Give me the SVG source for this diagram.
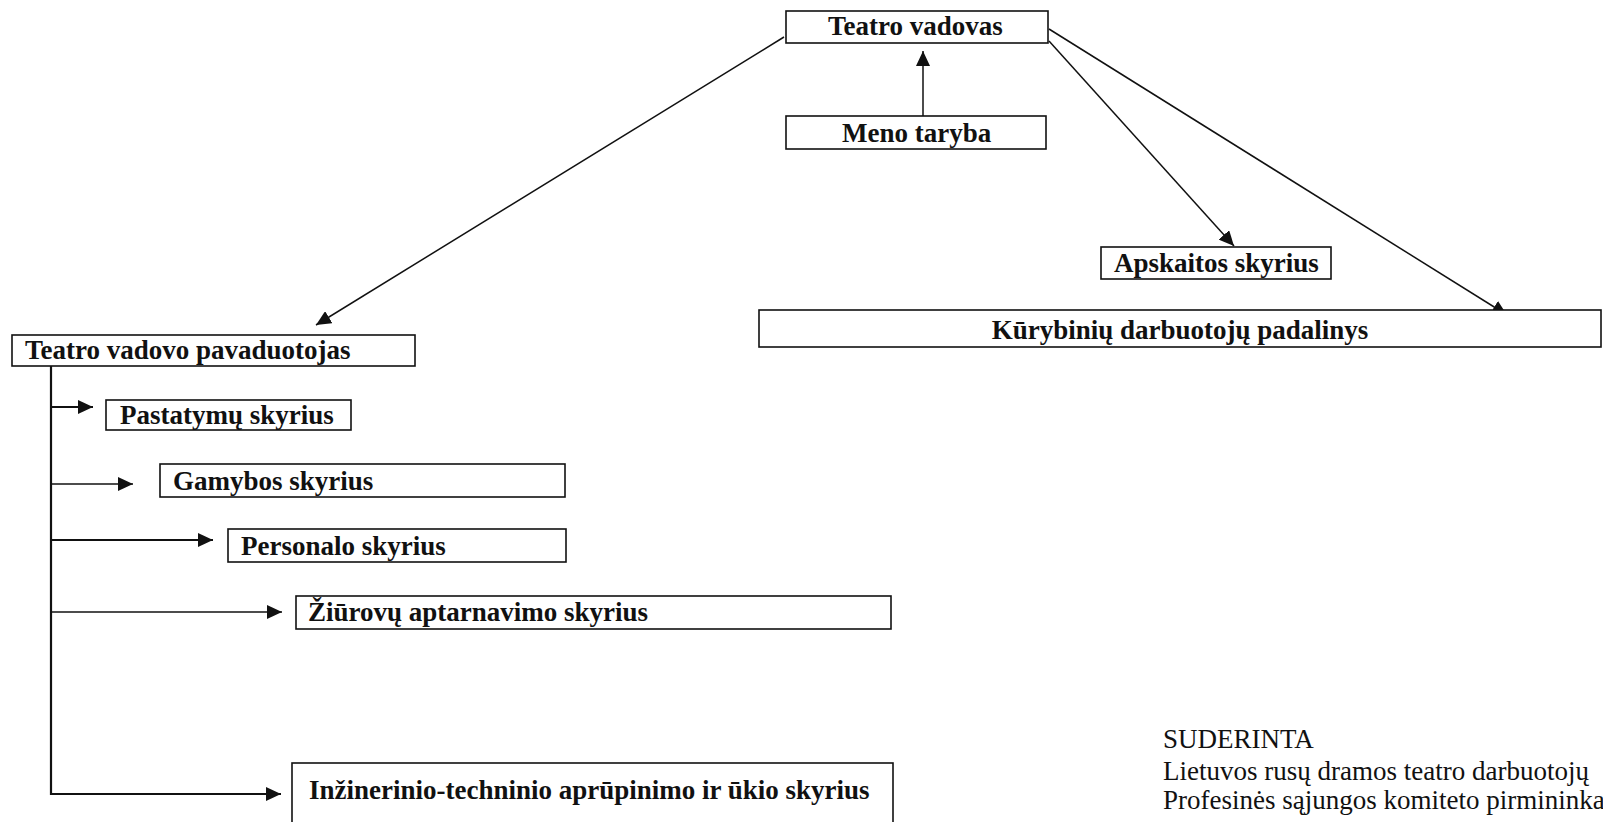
<svg xmlns="http://www.w3.org/2000/svg" width="1603" height="822" viewBox="0 0 1603 822">
<style>
.box{fill:#fff;stroke:#111;stroke-width:1.6}
.lbl{font-family:"Liberation Serif","Times New Roman",serif;font-weight:bold;font-size:27px;fill:#111}
.note{font-family:"Liberation Serif","Times New Roman",serif;font-size:27px;fill:#111}
.conn{fill:none;stroke:#111;stroke-width:1.5}
.tree{fill:none;stroke:#111;stroke-width:2.2}
</style>
<defs>
<marker id="arr" markerUnits="userSpaceOnUse" markerWidth="16" markerHeight="14" refX="15" refY="7" orient="auto">
<path d="M0,0 L15,7 L0,14 Z" fill="#111"/>
</marker>
</defs>
<rect width="1603" height="822" fill="#fff"/>
<g id="connectors">
<line class="conn" x1="923" y1="116" x2="923" y2="51" marker-end="url(#arr)"/>
<line class="conn" x1="784" y1="37" x2="316" y2="325" marker-end="url(#arr)"/>
<line class="conn" x1="1049" y1="41" x2="1234" y2="246" marker-end="url(#arr)"/>
<line class="conn" x1="1049" y1="29" x2="1507" y2="315" marker-end="url(#arr)"/>
<polyline class="tree" points="51,366 51,795"/>
<line class="tree" x1="51" y1="407" x2="93" y2="407" marker-end="url(#arr)"/>
<line class="conn" x1="51" y1="484" x2="133" y2="484" marker-end="url(#arr)"/>
<line class="tree" x1="51" y1="540" x2="213" y2="540" marker-end="url(#arr)"/>
<line class="conn" x1="51" y1="612" x2="282" y2="612" marker-end="url(#arr)"/>
<line class="tree" x1="51" y1="794" x2="281" y2="794" marker-end="url(#arr)"/>
</g>
<g id="teatro-vadovas">
<rect class="box" x="786" y="11" width="262" height="32"/>
<text class="lbl" x="828" y="35">Teatro vadovas</text>
</g>
<g id="meno-taryba">
<rect class="box" x="786" y="116" width="260" height="33"/>
<text class="lbl" x="842" y="142">Meno taryba</text>
</g>
<g id="apskaitos-skyrius">
<rect class="box" x="1101" y="247" width="230" height="32"/>
<text class="lbl" x="1114" y="272">Apskaitos skyrius</text>
</g>
<g id="kurybiniu-padalinys">
<rect class="box" x="759" y="310" width="842" height="37"/>
<text class="lbl" x="1180" y="339" text-anchor="middle">Kūrybinių darbuotojų padalinys</text>
</g>
<g id="pavaduotojas">
<rect class="box" x="12" y="335" width="403" height="31"/>
<text class="lbl" x="25" y="359">Teatro vadovo pavaduotojas</text>
</g>
<g id="pastatymu-skyrius">
<rect class="box" x="106" y="400" width="245" height="30"/>
<text class="lbl" x="120" y="424">Pastatymų skyrius</text>
</g>
<g id="gamybos-skyrius">
<rect class="box" x="160" y="464" width="405" height="33"/>
<text class="lbl" x="173" y="490">Gamybos skyrius</text>
</g>
<g id="personalo-skyrius">
<rect class="box" x="228" y="529" width="338" height="33"/>
<text class="lbl" x="241" y="555">Personalo skyrius</text>
</g>
<g id="ziurovu-skyrius">
<rect class="box" x="296" y="596" width="595" height="33"/>
<text class="lbl" x="308" y="621">Žiūrovų aptarnavimo skyrius</text>
</g>
<g id="inzinerinio-skyrius">
<rect class="box" x="292" y="763" width="601" height="80"/>
<text class="lbl" x="309" y="799">Inžinerinio-techninio aprūpinimo ir ūkio skyrius</text>
</g>
<g id="suderinta">
<text class="note" x="1163" y="748">SUDERINTA</text>
<text class="note" x="1163" y="780">Lietuvos rusų dramos teatro darbuotojų</text>
<text class="note" x="1163" y="809">Profesinės sąjungos komiteto pirmininka</text>
</g>
</svg>
